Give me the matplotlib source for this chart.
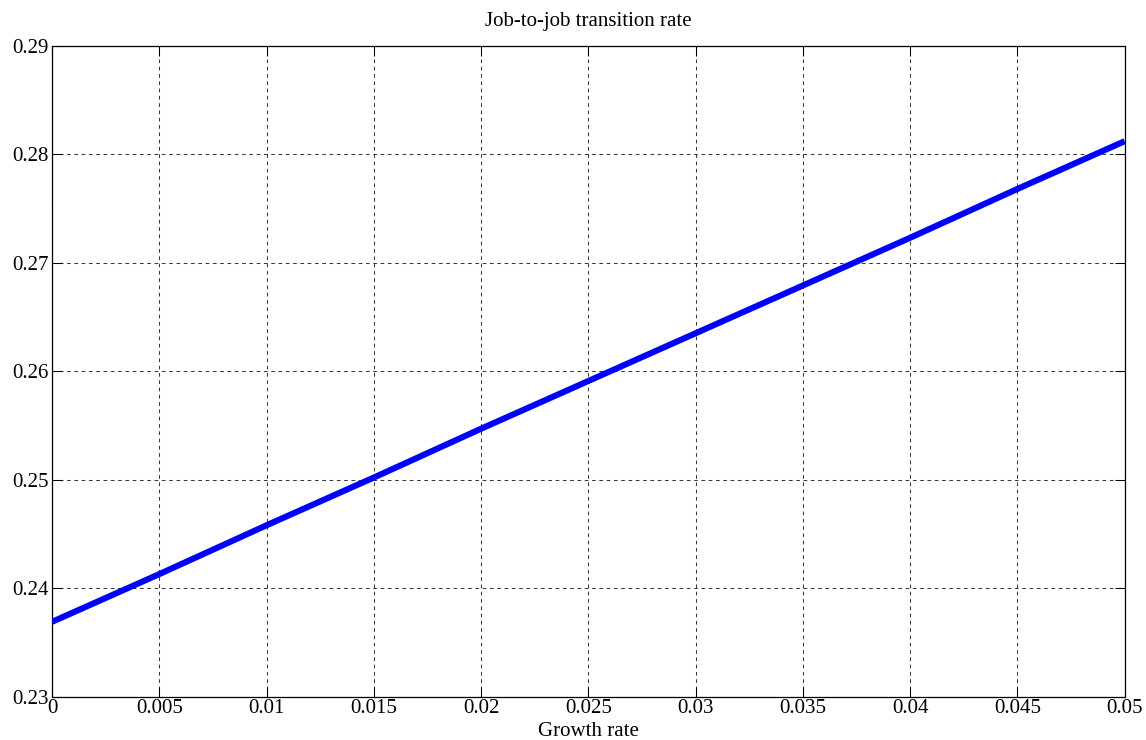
import matplotlib
matplotlib.use("Agg")
from matplotlib import pyplot

# Data

growthRate = [0.0, 0.005, 0.01, 0.015, 0.02, 0.025, 0.03, 0.035, 0.04, 0.045, 0.05]
transitionRate = [0.2369, 0.2413, 0.2458, 0.2502, 0.2547, 0.2591, 0.2635, 0.2679, 0.2723, 0.2768, 0.2812]

xTicks = [0, 0.005, 0.01, 0.015, 0.02, 0.025, 0.03, 0.035, 0.04, 0.045, 0.05]
xTickLabels = ["0", "0.005", "0.01", "0.015", "0.02", "0.025", "0.03", "0.035", "0.04", "0.045", "0.05"]
yTicks = [0.23, 0.24, 0.25, 0.26, 0.27, 0.28, 0.29]
yTickLabels = ["0.23", "0.24", "0.25", "0.26", "0.27", "0.28", "0.29"]

# Figure

pyplot.rcParams["font.family"] = ["Liberation Serif", "DejaVu Serif"]
pyplot.rcParams["font.size"] = 15

fig = pyplot.figure(figsize = (11.46, 7.40), dpi = 100)
ax = fig.add_axes([0.0454, 0.0585, 0.9360, 0.8797])

ax.plot(growthRate, transitionRate, color = "#0000ff", linewidth = 4.4, solid_capstyle = "butt", zorder = 3)

ax.set_xlim(0, 0.05)
ax.set_ylim(0.23, 0.29)
ax.set_xticks(xTicks)
ax.set_xticklabels(xTickLabels)
ax.set_yticks(yTicks)
ax.set_yticklabels(yTickLabels)

ax.tick_params(direction = "in", length = 7, width = 0.75, top = True, right = True, colors = "black")
ax.tick_params(axis = "x", pad = 2)
ax.tick_params(axis = "y", pad = 2.5)

for spine in ax.spines.values():
    spine.set_linewidth(0.9)
    spine.set_color("black")

ax.grid(True, color = "#383838", linewidth = 0.75, linestyle = (0, (3.5, 3.5)), zorder = 1)
ax.set_axisbelow(True)

ax.set_title("Job-to-job transition rate", fontsize = 15, pad = 14)
ax.set_xlabel("Growth rate", fontsize = 15)
ax.xaxis.set_label_coords(0.5, -0.039)

fig.savefig("out.png", dpi = 100)
pyplot.close()
